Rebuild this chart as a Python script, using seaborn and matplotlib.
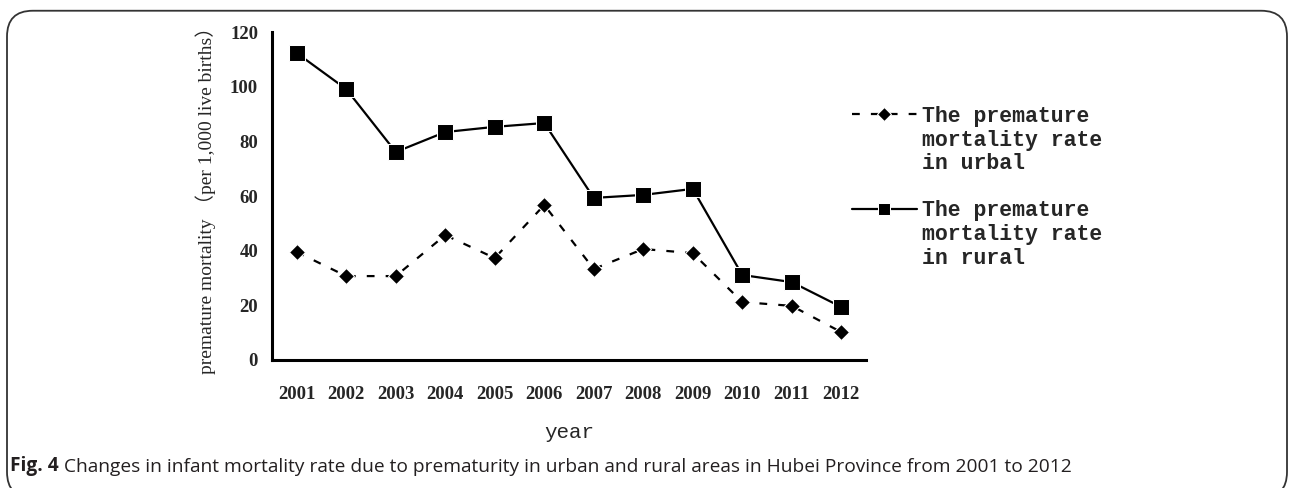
import matplotlib
matplotlib.use("Agg")
import matplotlib.pyplot as plt
import seaborn as sns
import pandas as pd
from matplotlib.lines import Line2D
from matplotlib.patches import FancyBboxPatch
from matplotlib.ticker import FixedLocator

years = ["2001", "2002", "2003", "2004", "2005", "2006",
         "2007", "2008", "2009", "2010", "2011", "2012"]
urban = [39.5, 30.7, 30.7, 45.7, 37.3, 56.7, 33.3, 40.6, 39.1, 21.2, 19.8, 10.2]
rural = [112.3, 99.1, 76.1, 83.4, 85.3, 86.7, 59.3, 60.4, 62.6, 31.1, 28.5, 19.4]
urban_label = ["The premature", "mortality rate", "in urbal"]
rural_label = ["The premature", "mortality rate", "in rural"]
y_ticks = [0, 20, 40, 60, 80, 100, 120]

sns.set_style("white")
plt.rcParams["font.family"] = ["Liberation Serif", "Noto Sans CJK SC", "DejaVu Sans"]

fig = plt.figure(figsize=(12.89, 4.88), dpi=100)
ax = fig.add_axes([272 / 1289, 1 - 360 / 488, (866 - 272) / 1289, (360 - 32) / 488])

df = pd.DataFrame({"year": years, "urban": urban, "rural": rural})
sns.lineplot(data=df, x="year", y="urban", ax=ax, color="black", lw=1.6,
             linestyle=(0, (3.5, 5)), marker="D", markersize=8.5, label="urban")
sns.lineplot(data=df, x="year", y="rural", ax=ax, color="black", lw=1.6,
             linestyle="-", marker="s", markersize=11, label="rural")

ax.set_xlim(-0.5, len(years) - 0.5)
ax.set_ylim(0, 120)
ax.set_yticks(y_ticks)
ax.set_xticks(range(len(years)))
ax.set_xticklabels(years)
ax.xaxis.set_minor_locator(FixedLocator([i + 0.5 for i in range(len(years))]))

for s in ["top", "right"]:
    ax.spines[s].set_visible(False)
for s in ["left", "bottom"]:
    ax.spines[s].set_linewidth(2.2)
    ax.spines[s].set_color("black")

ax.tick_params(axis="x", which="major", length=0, pad=19)
ax.tick_params(axis="x", which="minor", direction="in", length=5, width=2, color="black")
ax.tick_params(axis="y", direction="in", length=6, width=2, color="black", pad=10)
for lab in ax.get_xticklabels() + ax.get_yticklabels():
    lab.set_fontsize(13.5)
    lab.set_fontweight("bold")

ax.set_xlabel("year", family="Liberation Mono", fontsize=15, labelpad=14)
ax.set_ylabel("premature mortality （per 1,000 live births）", fontsize=14, labelpad=10)

# legend: handle on the first line of each three-line label
handles, _ = ax.get_legend_handles_labels()
blank = Line2D([], [], lw=0)
leg_handles = [handles[0], blank, blank, blank, handles[1], blank, blank]
leg_labels = urban_label + [""] + rural_label
leg = ax.legend(leg_handles, leg_labels, loc="upper left",
                bbox_to_anchor=(852 / 1289, 1 - 106 / 488),
                bbox_transform=fig.transFigure, frameon=False, borderpad=0,
                borderaxespad=0, handlelength=3.0, handletextpad=0.25,
                labelspacing=0.12, markerscale=0.8,
                prop={"family": "Liberation Mono", "weight": "bold", "size": 15.5})

border = FancyBboxPatch((7 / 1289, -0.02), 1280 / 1289, 0.998, transform=fig.transFigure,
                        boxstyle="round,pad=0,rounding_size=0.02", fill=False,
                        edgecolor="#333333", lw=1.3, mutation_aspect=1289 / 488)
fig.patches.append(border)

t1 = fig.text(10 / 1289, 1 - 476 / 488, "Fig. 4", family="Open Sans", weight="bold",
              fontsize=13.8, color="#231f20", va="bottom")
ax.annotate(" Changes in infant mortality rate due to prematurity in urban and rural areas in Hubei Province from 2001 to 2012",
            xy=(1, 0), xycoords=t1, va="bottom", ha="left", family="Open Sans",
            fontsize=13.8, color="#231f20", annotation_clip=False)

fig.savefig("out.png", dpi=100)
